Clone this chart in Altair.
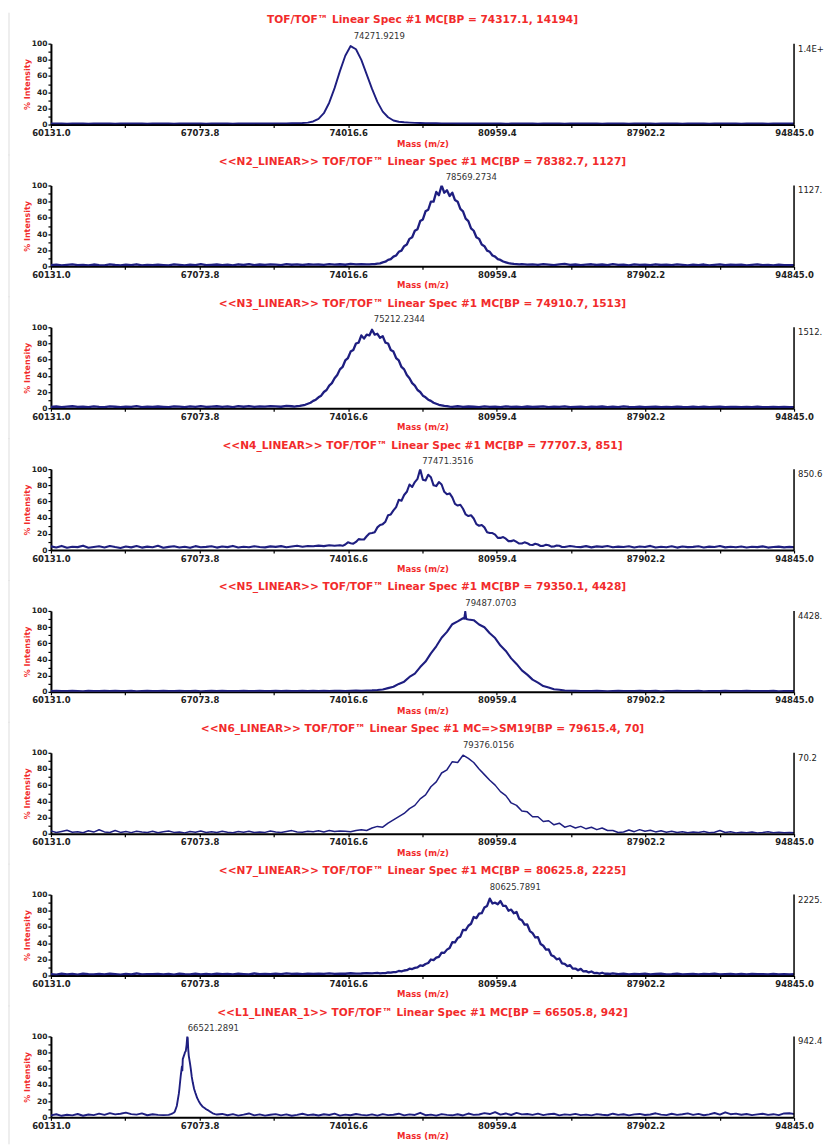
import altair as alt
import pandas as pd

# ---------------- axis / layout values ----------------
X_MIN, X_MAX = 60131.0, 94845.0
X_TICKS = [60131.0, 63602.4, 67073.8, 70545.2, 74016.6, 77488.0,
           80959.4, 84430.8, 87902.2, 91373.6, 94845.0]
Y_TICKS = [0, 10, 20, 30, 40, 50, 60, 70, 80, 90, 100]
GRID_START = 60131.0
GRID_STEP = 250.0

TITLES = [
    "TOF/TOF\u2122 Linear Spec #1 MC[BP = 74317.1, 14194]",
    "<<N2_LINEAR>> TOF/TOF\u2122 Linear Spec #1 MC[BP = 78382.7, 1127]",
    "<<N3_LINEAR>> TOF/TOF\u2122 Linear Spec #1 MC[BP = 74910.7, 1513]",
    "<<N4_LINEAR>> TOF/TOF\u2122 Linear Spec #1 MC[BP = 77707.3, 851]",
    "<<N5_LINEAR>> TOF/TOF\u2122 Linear Spec #1 MC[BP = 79350.1, 4428]",
    "<<N6_LINEAR>> TOF/TOF\u2122 Linear Spec #1 MC=>SM19[BP = 79615.4, 70]",
    "<<N7_LINEAR>> TOF/TOF\u2122 Linear Spec #1 MC[BP = 80625.8, 2225]",
    "<<L1_LINEAR_1>> TOF/TOF\u2122 Linear Spec #1 MC[BP = 66505.8, 942]",
]
PEAK_LABELS = ["74271.9219", "78569.2734", "75212.2344", "77471.3516",
               "79487.0703", "79376.0156", "80625.7891", "66521.2891"]
PEAK_MZ = [74271.9219, 78569.2734, 75212.2344, 77471.3516,
           79487.0703, 79376.0156, 80625.7891, 66521.2891]
RIGHT_LABELS = ["1.4E+4", "1127.5", "1512.8", "850.6", "4428.2", "70.2", "2225.6", "942.4"]

# ---------------- spectra (% intensity on a 250 Da sampling grid) ----------------
P1 = [1.4, 1.2, 1.2, 1.0, 1.2, 1.4, 1.2, 1.0, 1.2, 1.2,
      1.4, 1.2, 1.0, 1.2, 1.2, 1.4, 1.2, 1.2, 1.0, 1.2,
      1.2, 1.4, 1.2, 1.0, 1.2, 1.2, 1.4, 1.2, 1.2, 1.0,
      1.2, 1.4, 1.2, 1.2, 1.0, 1.4, 1.2, 1.2, 1.4, 1.2,
      1.4, 1.2, 1.5, 1.4, 1.5, 1.6, 1.7, 1.9, 2.4, 3.8,
      7, 14, 27, 45, 66, 85, 97, 93, 80, 62,
      44, 28, 16, 9, 5, 3.5, 2.8, 2.4, 2.1, 1.9,
      1.8, 1.7, 1.6, 1.5, 1.4, 1.4, 1.3, 1.4, 1.2, 1.2,
      1.4, 1.2, 1.2, 1.4, 1.2, 1.0, 1.2, 1.2, 1.4, 1.2,
      1.2, 1.0, 1.2, 1.4, 1.2, 1.2, 1.0, 1.2, 1.4, 1.2,
      1.2, 1.2, 1.4, 1.0, 1.2, 1.2, 1.4, 1.2, 1.0, 1.2,
      1.4, 1.2, 1.2, 1.0, 1.2, 1.4, 1.2, 1.2, 1.0, 1.2,
      1.2, 1.4, 1.2, 1.0, 1.2, 1.2, 1.4, 1.2, 1.2, 1.0,
      1.2, 1.4, 1.2, 1.2, 1.0, 1.2, 1.4, 1.2, 1.2, 1.2]

P2 = [1.5, 2.2, 1.2, 1.8, 2.5, 1.4, 1.9, 1.1, 2.3, 1.6,
      1.3, 2.4, 1.7, 1.2, 2.1, 1.5, 2.6, 1.3, 1.9, 1.4,
      2.2, 1.6, 1.1, 2.4, 1.8, 1.3, 2.0, 1.5, 2.7, 1.4,
      1.9, 2.3, 1.5, 2.1, 1.2, 2.6, 1.7, 2.9, 1.6, 2.3,
      1.8, 2.5, 2.1, 1.6, 2.8, 2.0, 2.4, 1.7, 2.6, 2.1,
      2.3, 1.9, 2.8, 2.2, 2.6, 2.0, 3.1, 2.4, 2.7, 2.5,
      2.8, 3.5, 5.0, 8.0, 12, 18, 25, 34, 44, 56,
      68, 80, 92, 100, 94, 91, 80, 68, 56, 44,
      34, 25, 18, 12, 8, 5, 3.5, 2.8, 2.9, 2.1,
      2.5, 1.8, 2.7, 2.2, 1.6, 2.4, 3.2, 1.9, 2.3, 1.5,
      2.1, 2.6, 1.7, 2.3, 1.4, 2.8, 1.9, 2.2, 1.3, 2.5,
      1.8, 2.0, 1.4, 2.6, 1.7, 2.2, 1.5, 2.4, 1.9, 1.3,
      2.1, 1.6, 2.3, 1.2, 1.9, 2.5, 1.4, 2.0, 1.7, 2.2,
      1.3, 1.9, 2.4, 1.5, 1.8, 1.2, 2.1, 1.6, 1.4, 1.5]

P3 = [1.6, 2.1, 1.3, 1.9, 2.4, 1.5, 1.8, 1.2, 2.2, 1.7,
      1.4, 2.3, 1.8, 1.3, 2.0, 1.6, 2.5, 1.4, 1.9, 1.5,
      2.1, 1.7, 1.2, 2.3, 1.9, 1.4, 2.2, 1.6, 2.6, 1.5,
      1.9, 2.4, 1.6, 2.2, 1.4, 2.5, 1.8, 2.7, 1.7, 2.3,
      1.9, 2.6, 2.2, 1.8, 2.9, 2.4, 2.5, 3.5, 5.5, 9,
      13.5, 20, 28, 37, 48, 59, 70, 80, 90, 91,
      97, 92, 89, 80, 70, 59, 48, 37, 28, 20,
      13.5, 9, 5.5, 3.5, 2.5, 1.7, 2.4, 1.5, 2.1, 1.8,
      1.4, 2.2, 1.6, 2.0, 1.3, 2.3, 1.7, 1.9, 1.2, 2.1,
      1.5, 1.8, 2.2, 1.3, 1.9, 1.6, 2.3, 1.4, 1.7, 2.0,
      1.2, 1.9, 1.5, 2.1, 1.4, 1.8, 1.3, 2.2, 1.6, 1.4,
      1.9, 1.3, 1.7, 2.0, 1.4, 1.6, 1.2, 1.9, 1.5, 1.3,
      1.8, 1.4, 2.0, 1.3, 1.6, 1.9, 1.2, 1.7, 1.5, 1.3,
      1.6, 1.2, 1.8, 1.4, 1.3, 1.7, 1.2, 1.5, 1.4, 1.3]

P4 = [4.5, 3.2, 5.1, 2.8, 4.0, 3.6, 5.4, 2.9, 3.8, 4.6,
      3.1, 5.0, 3.7, 2.6, 4.4, 3.3, 4.9, 3.0, 4.2, 3.5,
      5.2, 2.8, 3.9, 4.7, 3.2, 4.1, 2.7, 4.8, 3.4, 3.9,
      4.6, 3.0, 4.3, 3.6, 5.1, 3.2, 4.0, 3.4, 4.7, 3.8,
      3.3, 4.5, 3.9, 4.8, 3.5, 4.4, 5.2, 4.0, 5.0, 4.6,
      5.4, 4.8, 5.9, 5.2, 6.0, 6.8, 8.5, 10, 13, 17,
      21, 28, 32, 43, 49, 62, 68, 81, 84, 100,
      86, 90, 79, 81, 69, 65, 55, 51, 42, 39,
      30, 28, 21, 19, 15, 14, 11, 10, 8, 8.5,
      6.2, 6.8, 5.1, 5.9, 4.4, 5.3, 3.8, 4.9, 4.1, 3.6,
      4.8, 3.3, 4.5, 3.9, 5.0, 3.4, 4.2, 3.7, 4.6, 3.1,
      4.3, 3.8, 5.1, 3.2, 4.0, 3.5, 4.7, 3.0, 4.4, 3.6,
      3.9, 4.6, 3.1, 4.2, 3.7, 4.9, 3.3, 4.1, 3.5, 4.4,
      3.2, 4.0, 3.6, 4.5, 3.0, 3.8, 4.2, 3.3, 3.9, 3.5]

P5 = [1.0, 1.2, 0.9, 1.1, 1.3, 1.0, 0.8, 1.2, 1.1, 0.9,
      1.2, 1.0, 1.3, 0.9, 1.1, 1.2, 0.8, 1.0, 1.3, 1.1,
      0.9, 1.2, 1.0, 1.1, 1.3, 0.9, 1.0, 1.2, 0.8, 1.1,
      1.3, 1.0, 1.2, 0.9, 1.1, 1.0, 1.3, 1.1, 0.9, 1.2,
      1.0, 1.1, 1.3, 0.9, 1.2, 1.0, 1.1, 1.4, 1.0, 1.2,
      1.1, 1.3, 1.0, 1.2, 1.4, 1.1, 1.3, 1.5, 1.2, 1.6,
      1.8, 2.2, 3.0, 4.6, 6.3, 9.8, 12.6, 18.4, 22.5, 30.6,
      37.4, 47.5, 56.3, 66.8, 74.1, 83.6, 87.2, 91.0, 89.5, 88.6,
      83.2, 79.8, 72.4, 66.5, 57.2, 50.6, 41.4, 34.5, 26.6, 21.3,
      15.1, 11.4, 7.2, 5.3, 3.2, 2.7, 1.6, 1.4, 1.2, 1.0,
      1.1, 0.9, 1.2, 1.0, 0.8, 1.1, 1.2, 0.9, 1.0, 1.1,
      1.3, 0.9, 1.0, 1.2, 0.8, 1.1, 1.0, 1.2, 0.9, 1.1,
      1.0, 1.2, 0.8, 1.1, 1.0, 0.9, 1.2, 1.0, 1.1, 0.9,
      1.2, 1.0, 0.9, 1.1, 1.0, 1.2, 0.8, 1.0, 1.1, 1.0]

P6 = [3.5, 1.5, 2.8, 4.2, 1.8, 2.5, 1.2, 3.6, 2.0, 4.8,
      2.2, 1.4, 3.9, 1.6, 2.7, 1.3, 3.1, 2.0, 1.5, 2.9,
      1.2, 2.4, 3.3, 1.6, 2.1, 1.0, 2.8, 1.9, 3.4, 1.5,
      2.3, 1.4, 2.9, 1.7, 1.1, 2.6, 1.8, 3.0, 1.4, 2.2,
      1.6, 3.3, 2.0, 1.5, 2.7, 3.8, 2.2, 1.8, 3.1, 2.4,
      3.6, 2.1, 3.9, 2.6, 3.3, 3.0, 2.5, 4.0, 5.0, 4.0,
      7, 9, 8, 13, 17, 21, 25, 31, 35, 43,
      48, 58, 64, 75, 79, 89, 88, 97, 93, 88,
      80, 73, 66, 60, 52, 47, 38, 35, 28, 27,
      21, 21, 15, 16, 11, 13, 8, 10, 7, 9,
      6, 8, 5, 7, 4, 4, 1.5, 2, 4.5, 2.5,
      5, 3, 4.2, 2.2, 3.6, 1.8, 2.9, 1.5, 2.4, 1.2,
      2.0, 1.4, 2.6, 1.1, 1.8, 3.9, 1.5, 2.3, 1.0, 1.7,
      1.3, 2.1, 1.0, 1.6, 2.4, 1.2, 1.9, 1.1, 1.5, 1.3]

P7 = [1.8, 1.2, 2.3, 1.5, 1.9, 1.1, 2.4, 1.6, 1.3, 2.1,
      1.4, 2.2, 1.7, 1.2, 2.0, 1.5, 2.5, 1.3, 1.8, 1.6,
      2.1, 1.4, 1.9, 1.2, 2.3, 1.7, 1.3, 2.2, 1.5, 1.9,
      1.3, 2.4, 1.6, 2.0, 1.4, 2.2, 1.8, 1.5, 2.5, 1.7,
      2.0, 1.6, 2.3, 1.8, 2.6, 1.9, 2.2, 1.7, 2.4, 2.0,
      2.3, 1.9, 2.6, 2.1, 2.4, 2.2, 2.8, 2.3, 2.5, 2.9,
      2.7, 3.2, 3.0, 3.8, 4.2, 5.6, 6.2, 8.5, 9.4, 12.6,
      14.2, 19.8, 22.1, 28.3, 32.0, 41.2, 46.3, 56.4, 61.5, 72.3,
      76.4, 84.0, 95.0, 90.0, 92.0, 86.0, 81.5, 78.6, 68.4, 63.1,
      52.3, 47.5, 36.8, 32.4, 23.6, 21.0, 14.3, 12.9, 8.6, 8.2,
      5.4, 5.0, 3.2, 3.4, 2.3, 2.6, 1.8, 2.2, 1.5, 2.0,
      1.6, 2.3, 1.4, 1.9, 2.2, 1.5, 1.8, 2.4, 1.3, 1.7,
      2.1, 1.4, 1.9, 1.6, 2.2, 1.3, 1.8, 2.0, 1.5, 1.9,
      1.4, 2.1, 1.6, 1.8, 1.3, 2.0, 1.5, 1.7, 1.4, 1.6]

P8 = [2.5, 3.8, 1.9, 3.2, 2.4, 4.1, 2.0, 3.5, 2.8, 4.6,
      3.0, 5.2, 3.6, 4.4, 5.8, 4.0, 3.3, 4.9, 2.6, 3.8,
      3.1, 2.7, 3.0, 6.0, 35, 79, 66, 30, 16, 10,
      6, 3.5, 4.2, 2.6, 3.9, 2.2, 3.4, 4.8, 2.5, 3.6,
      2.1, 3.2, 4.0, 2.4, 3.7, 2.0, 3.1, 4.4, 2.7, 3.5,
      2.3, 3.8, 2.9, 4.6, 2.2, 3.3, 2.6, 4.1, 3.0, 2.4,
      3.6, 2.1, 3.9, 2.8, 3.2, 4.5, 2.4, 3.7, 2.9, 5.6,
      2.6, 3.4, 2.2, 4.0, 3.1, 2.5, 3.8, 2.3, 4.7, 3.0,
      3.5, 5.2, 4.1, 6.4, 3.3, 4.8, 2.9, 5.5, 3.6, 4.2,
      3.0, 4.6, 2.7, 3.9, 4.4, 2.5, 3.7, 3.1, 4.3, 2.8,
      3.4, 2.4, 4.0, 3.2, 2.6, 4.5, 3.0, 3.8, 2.5, 3.6,
      4.2, 2.9, 3.5, 5.0, 3.3, 2.7, 4.4, 3.1, 3.8, 4.9,
      3.0, 4.3, 2.6, 3.7, 5.4, 3.4, 6.2, 3.9, 4.6, 3.2,
      4.1, 2.8, 3.6, 4.5, 3.0, 3.9, 2.7, 4.8, 5.1, 4.0]

# readings half-way between grid samples across the noisy peaks (start = grid index)
P2_MID_START = 59
P2_MID = [2.4, 2.9, 3.8, 5.8, 9, 13.5, 19.5, 27, 36, 46,
          58, 70, 80, 88, 91, 87, 82, 71, 59, 47,
          36, 27, 19.5, 13.5, 9, 6, 4, 3, 2.4]
P3_MID_START = 45
P3_MID = [2.0, 2.8, 4.2, 6.8, 10.5, 15.5, 22.5, 31, 41, 51,
          62, 72, 81, 86, 90, 91, 87, 81, 72, 62,
          51, 41, 31, 22.5, 15.5, 10.5, 6.8, 4.2, 2.8, 2.0]
P4_MID_START = 54
P4_MID = [5.2, 9.5, 7.8, 13.5, 13, 20.5, 22, 31, 35, 44,
          53, 61, 72, 78, 88, 87, 93, 80, 84, 72,
          70, 57, 56, 44, 43, 32, 31, 22, 21, 15,
          16, 11, 12, 8, 9.5, 6.5, 7.8, 5, 6.5, 4.2,
          5.6, 3.8]
P7_MID_START = 61
P7_MID = [2.6, 3.0, 3.5, 4.3, 5.2, 6.6, 8.0, 10, 12, 15.5,
          19, 23, 28, 34, 41, 48, 56, 64, 71, 77,
          86, 89, 88, 86, 80, 77, 70, 63, 55, 47,
          39, 32, 25, 20, 15, 11.5, 8.5, 6.5, 5, 3.8,
          3.0, 2.4, 2.2, 1.9]

# extra finely sampled points read around narrow features
P5_FINE_MZ = [79440.0, 79487.0, 79530.0]
P5_FINE_INT = [90.5, 99.0, 90.0]
P8_FINE_MZ = [65730, 65820, 65917, 66010, 66104, 66150, 66197, 66250, 66270, 66290,
              66340, 66384, 66430, 66470, 66500, 66521, 66545, 66570, 66620, 66664,
              66710, 66757, 66820, 66897, 66960, 67037, 67130, 67224, 67340, 67457,
              67570, 67690, 67800]
P8_FINE_INT = [4, 5, 7, 14, 29, 40, 52, 63, 58, 72,
               76, 80, 82, 90, 100, 98, 84, 76, 68, 60,
               50, 43, 35, 29, 24, 20, 16, 13, 11, 9,
               7, 5, 4]

SERIES = [P1, P2, P3, P4, P5, P6, P7, P8]
MIDS = {1: (P2_MID_START, P2_MID), 2: (P3_MID_START, P3_MID),
        3: (P4_MID_START, P4_MID), 6: (P7_MID_START, P7_MID)}
FINE = {4: (P5_FINE_MZ, P5_FINE_INT), 7: (P8_FINE_MZ, P8_FINE_INT)}
STROKE = [1.9, 2.3, 2.3, 2.1, 2.1, 1.5, 2.3, 1.9]

# ---------------- styling ----------------
W, H = 744, 81
GAP = 61
NAVY = "#1e1e80"
RED = "#f22b2b"
LBL_EXPR = ("abs((datum.value - 60131) / 6942.8 - round((datum.value - 60131) / 6942.8)) < 0.01"
            " ? format(datum.value, '.1f') : ''")

XS = alt.Scale(domain=[X_MIN, X_MAX], nice=False, zero=False)
YS = alt.Scale(domain=[0, 100], nice=False)
XAXIS = alt.Axis(values=X_TICKS, labelExpr=LBL_EXPR, labelFlush=False, labelOverlap=False,
                 labelFont="DejaVu Sans", labelFontSize=8.5, labelFontWeight="bold",
                 labelColor="#222", labelPadding=1,
                 tickSize=3, tickWidth=1.2, tickColor="black", domainColor="black", domainWidth=2,
                 grid=False, titleColor=RED, titleFont="DejaVu Sans", titleFontSize=8.5,
                 titleFontWeight="bold", titlePadding=2)
YAXIS = alt.Axis(values=Y_TICKS, labelExpr="datum.value % 20 == 0 ? datum.label : ''",
                 labelOverlap=False, labelFont="DejaVu Sans", labelFontSize=7.5,
                 labelFontWeight="bold", labelColor="#222", labelPadding=1, tickSize=3,
                 tickWidth=1.2, tickColor="black", domainColor="black", domainWidth=2, grid=False,
                 titleColor=RED, titleFont="DejaVu Sans", titleFontSize=8,
                 titleFontWeight="bold", titleX=-23, titleY=H / 2, titleAngle=270,
                 titleAlign="center", titleBaseline="middle")


def xenc():
    return alt.X("mz:Q", scale=XS, axis=XAXIS, title="Mass (m/z)")


def yenc():
    return alt.Y("pct:Q", scale=YS, axis=YAXIS, title="% Intensity")


def build(k):
    vals = SERIES[k]
    rows = [(GRID_START + GRID_STEP * i, v) for i, v in enumerate(vals)]
    if k in MIDS:
        start, mids = MIDS[k]
        rows += [(GRID_START + GRID_STEP * (start + j) + GRID_STEP / 2, v)
                 for j, v in enumerate(mids)]
    if k in FINE:
        rows += list(zip(FINE[k][0], FINE[k][1]))
    df = pd.DataFrame(rows, columns=["mz", "pct"]).sort_values("mz")

    top = -31
    bottom = H + (27 if k == len(SERIES) - 1 else 31)
    gray = alt.Chart(pd.DataFrame({"a": [0]})).mark_rule(color="#dedede", strokeWidth=1).encode(
        x=alt.value(-42), y=alt.value(top), y2=alt.value(bottom))

    line = alt.Chart(df).mark_line(color=NAVY, strokeWidth=STROKE[k], clip=True,
                                   strokeJoin="round").encode(x=xenc(), y=yenc())

    edge = pd.DataFrame({"mz": [X_MAX], "pct": [0], "pct2": [100]})
    rrule = alt.Chart(edge).mark_rule(color="black", strokeWidth=1.5).encode(
        x=xenc(), y=yenc(), y2="pct2:Q")

    lab = pd.DataFrame({"mz": [X_MAX], "pct": [100], "t": [RIGHT_LABELS[k]]})
    rlabel = alt.Chart(lab).mark_text(align="left", baseline="middle", dx=4, dy=5, limit=29,
                                      ellipsis=" ", font="DejaVu Sans", fontSize=8.5,
                                      color="#222").encode(x=xenc(), y=yenc(), text="t:N")

    ann = pd.DataFrame({"mz": [PEAK_MZ[k]], "pct": [100], "t": [PEAK_LABELS[k]]})
    peak = alt.Chart(ann).mark_text(align="left", baseline="middle", dy=-8, font="DejaVu Sans",
                                    fontSize=8.5, color="#333").encode(
        x=xenc(), y=yenc(), text="t:N")

    ttl = alt.Chart(pd.DataFrame({"t": [TITLES[k]]})).mark_text(
        align="center", baseline="middle", font="DejaVu Sans", fontSize=10.6,
        fontWeight="bold", color=RED).encode(
        x=alt.value(W / 2), y=alt.value(-23.5), text="t:N")

    return alt.layer(gray, line, rrule, rlabel, peak, ttl).properties(width=W, height=H)


panels = [build(k) for k in range(len(SERIES))]
chart = alt.vconcat(*panels, spacing=GAP, bounds="flush").properties(
    padding={"left": 8, "top": 11, "right": 0, "bottom": 0},
    background="white",
).configure_view(stroke=None)

chart.save("out.html", embed_options={"renderer": "svg", "actions": False})
